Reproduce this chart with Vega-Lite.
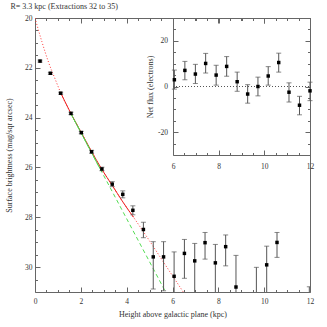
{
  "$schema": "https://vega.github.io/schema/vega-lite/v6.json",
  "width": 275,
  "height": 274,
  "autosize": {"type": "none"},
  "padding": {"left": 35, "top": 18, "right": 17, "bottom": 35},
  "title": {"text": "R= 3.3 kpc (Extractions 32 to 35)", "anchor": "start", "dx": 5, "offset": 3, "fontSize": 8, "font": "Liberation Serif", "fontWeight": "normal", "color": "#333"},
  "config": {
    "view": {"stroke": "#666", "strokeWidth": 1},
    "axis": {"labelFont": "Liberation Serif", "titleFont": "Liberation Serif", "labelFontSize": 7.5, "titleFontSize": 8, "titleFontWeight": "normal", "labelColor": "#333", "titleColor": "#333", "tickColor": "#666", "domainColor": "#666", "grid": false, "labelFlush": false, "labelOverlap": false}
  },
  "datasets": {
    "main": [
      {"x": 0.22, "y": 21.73, "ymin": 21.69, "ymax": 21.77},
      {"x": 0.67, "y": 22.22, "ymin": 22.18, "ymax": 22.26},
      {"x": 1.12, "y": 23.02, "ymin": 22.98, "ymax": 23.06},
      {"x": 1.57, "y": 23.83, "ymin": 23.78, "ymax": 23.88},
      {"x": 2.02, "y": 24.6, "ymin": 24.55, "ymax": 24.65},
      {"x": 2.47, "y": 25.37, "ymin": 25.31, "ymax": 25.43},
      {"x": 2.92, "y": 26.06, "ymin": 25.99, "ymax": 26.13},
      {"x": 3.37, "y": 26.67, "ymin": 26.57, "ymax": 26.77},
      {"x": 3.83, "y": 27.08, "ymin": 26.94, "ymax": 27.22},
      {"x": 4.27, "y": 27.72, "ymin": 27.54, "ymax": 27.9},
      {"x": 4.73, "y": 28.49, "ymin": 28.2, "ymax": 28.82},
      {"x": 5.16, "y": 29.59, "ymin": 28.98, "ymax": 30.88},
      {"x": 5.61, "y": 29.59, "ymin": 28.98, "ymax": 30.95},
      {"x": 6.07, "y": 30.37, "ymin": 29.39, "ymax": 32},
      {"x": 6.52, "y": 29.45, "ymin": 28.89, "ymax": 30.45},
      {"x": 6.97, "y": 29.75, "ymin": 29.05, "ymax": 32},
      {"x": 7.42, "y": 29.02, "ymin": 28.61, "ymax": 29.68},
      {"x": 7.87, "y": 29.83, "ymin": 29.09, "ymax": 32},
      {"x": 8.32, "y": 29.18, "ymin": 28.71, "ymax": 29.95},
      {"x": 8.77, "y": 30.8, "ymin": 29.53, "ymax": 32},
      {"x": 9.66, "y": null, "ymin": 30.01, "ymax": 32},
      {"x": 10.11, "y": 29.91, "ymin": 29.16, "ymax": 32},
      {"x": 10.56, "y": 29.01, "ymin": 28.61, "ymax": 29.61},
      {"x": 11.97, "y": null, "ymin": 30.79, "ymax": 32}
    ],
    "inset": [
      {"x": 6.06, "y": 2.95, "ymin": -1.15, "ymax": 7.2},
      {"x": 6.52, "y": 7.05, "ymin": 2.95, "ymax": 11.0},
      {"x": 6.98, "y": 5.45, "ymin": 1.3, "ymax": 9.7},
      {"x": 7.43, "y": 10.1, "ymin": 5.9, "ymax": 14.5},
      {"x": 7.89, "y": 5.0, "ymin": 0.6, "ymax": 9.3},
      {"x": 8.35, "y": 8.8, "ymin": 4.5, "ymax": 13.1},
      {"x": 8.81, "y": 2.1, "ymin": -2.1, "ymax": 6.3},
      {"x": 9.27, "y": -3.3, "ymin": -7.3, "ymax": 0.8},
      {"x": 9.72, "y": 0.0, "ymin": -4.1, "ymax": 4.1},
      {"x": 10.17, "y": 4.6, "ymin": 0.6, "ymax": 8.7},
      {"x": 10.63, "y": 10.5, "ymin": 6.3, "ymax": 14.6},
      {"x": 11.08, "y": -2.5, "ymin": -6.8, "ymax": 1.6},
      {"x": 11.54, "y": -8.2, "ymin": -12.4, "ymax": -4.3},
      {"x": 12.0, "y": -1.9, "ymin": -6.2, "ymax": 1.9}
    ],
    "fit": [
      {"part": "red", "x": 0, "y": 20.0},
      {"part": "red", "x": 0.3, "y": 20.95},
      {"part": "red", "x": 0.6, "y": 21.8},
      {"part": "red", "x": 0.9, "y": 22.5},
      {"part": "red", "x": 1.12, "y": 23.0},
      {"part": "red", "x": 1.56, "y": 23.82},
      {"part": "red", "x": 2.02, "y": 24.6},
      {"part": "red", "x": 2.47, "y": 25.36},
      {"part": "red", "x": 2.92, "y": 26.08},
      {"part": "red", "x": 3.37, "y": 26.72},
      {"part": "red", "x": 3.83, "y": 27.38},
      {"part": "red", "x": 4.3, "y": 28.0},
      {"part": "red", "x": 5.0, "y": 28.95},
      {"part": "red", "x": 5.7, "y": 29.93},
      {"part": "red", "x": 6.47, "y": 31.0},
      {"part": "green", "x": 1.56, "y": 23.83},
      {"part": "green", "x": 2.92, "y": 26.19},
      {"part": "green", "x": 5.7, "y": 31.0}
    ],
    "zero": [{"ref": 0}]
  },
  "layer": [
    {
      "layer": [
        {
          "data": {"name": "fit"},
          "transform": [{"filter": "datum.part == 'red'"}],
          "mark": {"type": "line", "color": "#ff3333", "strokeDash": [1, 2], "strokeWidth": 1, "interpolate": "monotone", "clip": true},
          "encoding": {
            "x": {"field": "x", "type": "quantitative", "scale": {"domain": [0, 12], "nice": false, "zero": false},
                  "axis": {"orient": "bottom", "values": [0, 2, 4, 6, 8, 10, 12], "tickSize": -5, "labelPadding": 10, "domain": false, "title": "Height above galactic plane (kpc)", "titlePadding": 6}},
            "y": {"field": "y", "type": "quantitative", "scale": {"domain": [20, 31], "reverse": true, "nice": false, "zero": false},
                  "axis": {"orient": "left", "values": [20, 22, 24, 26, 28, 30], "tickSize": -5, "labelPadding": 8, "domain": false, "title": "Surface brightness (mag/sqr arcsec)", "titlePadding": 11}}
          }
        },
        {
          "data": {"name": "fit"},
          "transform": [{"filter": "datum.part == 'red' && datum.x >= 1.12 && datum.x <= 4.3"}],
          "mark": {"type": "line", "color": "#ee2222", "strokeWidth": 1, "interpolate": "monotone", "clip": true},
          "encoding": {
            "x": {"field": "x", "type": "quantitative",
                  "axis": {"orient": "bottom", "values": [0.5, 1, 1.5, 2.5, 3, 3.5, 4.5, 5, 5.5, 6.5, 7, 7.5, 8.5, 9, 9.5, 10.5, 11, 11.5], "tickSize": -2.5, "labels": false, "domain": false, "title": null}},
            "y": {"field": "y", "type": "quantitative",
                  "axis": {"orient": "left", "values": [20.5, 21, 21.5, 22.5, 23, 23.5, 24.5, 25, 25.5, 26.5, 27, 27.5, 28.5, 29, 29.5, 30.5], "tickSize": -2.5, "labels": false, "domain": false, "title": null}}
          }
        },
        {
          "data": {"name": "fit"},
          "transform": [{"filter": "datum.part == 'green' && datum.x <= 2.92"}],
          "mark": {"type": "line", "color": "#44cc44", "strokeWidth": 1, "clip": true},
          "encoding": {
            "x": {"field": "x", "type": "quantitative",
                  "axis": {"orient": "top", "values": [0, 2, 4, 6, 8, 10, 12], "tickSize": -5, "labels": false, "domain": false, "title": null}},
            "y": {"field": "y", "type": "quantitative", "axis": null}
          }
        },
        {
          "data": {"name": "fit"},
          "transform": [{"filter": "datum.part == 'green'"}],
          "mark": {"type": "line", "color": "#55dd55", "strokeWidth": 1, "strokeDash": [4, 3], "clip": true},
          "encoding": {
            "x": {"field": "x", "type": "quantitative",
                  "axis": {"orient": "top", "values": [0.5, 1, 1.5, 2.5, 3, 3.5, 4.5, 5, 5.5, 6.5, 7, 7.5, 8.5, 9, 9.5, 10.5, 11, 11.5], "tickSize": -2.5, "labels": false, "domain": false, "title": null}},
            "y": {"field": "y", "type": "quantitative", "axis": null}
          }
        },
        {
          "data": {"name": "main"},
          "mark": {"type": "rule", "color": "#555", "strokeWidth": 1, "clip": true},
          "encoding": {
            "x": {"field": "x", "type": "quantitative", "axis": null},
            "y": {"field": "ymin", "type": "quantitative", "axis": null},
            "y2": {"field": "ymax"}
          }
        },
        {
          "data": {"name": "main"},
          "mark": {"type": "tick", "orient": "horizontal", "size": 5, "thickness": 1, "color": "#555", "clip": true},
          "encoding": {
            "x": {"field": "x", "type": "quantitative", "axis": null},
            "y": {"field": "ymin", "type": "quantitative", "axis": null}
          }
        },
        {
          "data": {"name": "main"},
          "mark": {"type": "tick", "orient": "horizontal", "size": 5, "thickness": 1, "color": "#555", "clip": true},
          "encoding": {
            "x": {"field": "x", "type": "quantitative", "axis": null},
            "y": {"field": "ymax", "type": "quantitative", "axis": null}
          }
        },
        {
          "data": {"name": "main"},
          "mark": {"type": "square", "size": 12, "color": "#000", "opacity": 1, "filled": true, "clip": true},
          "encoding": {
            "x": {"field": "x", "type": "quantitative", "axis": null},
            "y": {"field": "y", "type": "quantitative", "axis": null}
          }
        }
      ],
      "resolve": {"axis": {"x": "independent", "y": "independent"}}
    },
    {
      "layer": [
        {
          "data": {"name": "zero"},
          "mark": {"type": "rule", "color": "#555", "strokeDash": [1, 2], "strokeWidth": 1},
          "encoding": {
            "x": {"datum": 6, "type": "quantitative", "scale": {"domain": [6, 12], "range": [138, 275], "nice": false, "zero": false},
                  "axis": {"orient": "bottom", "offset": -137, "values": [6, 8, 10, 12], "tickSize": -5, "labelPadding": 12, "domain": true, "title": null}},
            "x2": {"datum": 12},
            "y": {"field": "ref", "type": "quantitative", "scale": {"domain": [-30, 30], "range": [137, 0], "nice": false, "zero": false},
                  "axis": {"orient": "left", "offset": -138, "values": [-20, 0, 20], "tickSize": -5, "labelPadding": 10.5, "domain": true, "title": "Net flux (electrons)", "titlePadding": 3, "labelExpr": "replace(datum.label, '−', '-')"}}
          }
        },
        {
          "data": {"name": "inset"},
          "mark": {"type": "rule", "color": "#555", "strokeWidth": 1},
          "encoding": {
            "x": {"field": "x", "type": "quantitative",
                  "axis": {"orient": "top", "offset": 0, "values": [6, 8, 10, 12], "tickSize": -5, "labels": false, "domain": true, "title": null}},
            "y": {"field": "ymin", "type": "quantitative",
                  "axis": {"orient": "right", "offset": 0, "values": [-20, 0, 20], "tickSize": -5, "labels": false, "domain": true, "title": null}},
            "y2": {"field": "ymax"}
          }
        },
        {
          "data": {"name": "inset"},
          "mark": {"type": "tick", "orient": "horizontal", "size": 5, "thickness": 1, "color": "#555"},
          "encoding": {
            "x": {"field": "x", "type": "quantitative",
                  "axis": {"orient": "bottom", "offset": -137, "values": [6.5, 7, 7.5, 8.5, 9, 9.5, 10.5, 11, 11.5], "tickSize": -2.5, "labels": false, "domain": false, "title": null}},
            "y": {"field": "ymin", "type": "quantitative",
                  "axis": {"orient": "left", "offset": -138, "values": [-25, -15, -10, -5, 5, 10, 15, 25], "tickSize": -2.5, "labels": false, "domain": false, "title": null}}
          }
        },
        {
          "data": {"name": "inset"},
          "mark": {"type": "tick", "orient": "horizontal", "size": 5, "thickness": 1, "color": "#555"},
          "encoding": {
            "x": {"field": "x", "type": "quantitative",
                  "axis": {"orient": "top", "offset": 0, "values": [6.5, 7, 7.5, 8.5, 9, 9.5, 10.5, 11, 11.5], "tickSize": -2.5, "labels": false, "domain": false, "title": null}},
            "y": {"field": "ymax", "type": "quantitative",
                  "axis": {"orient": "right", "offset": 0, "values": [-25, -15, -10, -5, 5, 10, 15, 25], "tickSize": -2.5, "labels": false, "domain": false, "title": null}}
          }
        },
        {
          "data": {"name": "inset"},
          "mark": {"type": "square", "size": 12, "color": "#000", "opacity": 1, "filled": true},
          "encoding": {
            "x": {"field": "x", "type": "quantitative", "axis": null},
            "y": {"field": "y", "type": "quantitative", "axis": null}
          }
        }
      ],
      "resolve": {"axis": {"x": "independent", "y": "independent"}}
    }
  ],
  "resolve": {"scale": {"x": "independent", "y": "independent"}, "axis": {"x": "independent", "y": "independent"}}
}
